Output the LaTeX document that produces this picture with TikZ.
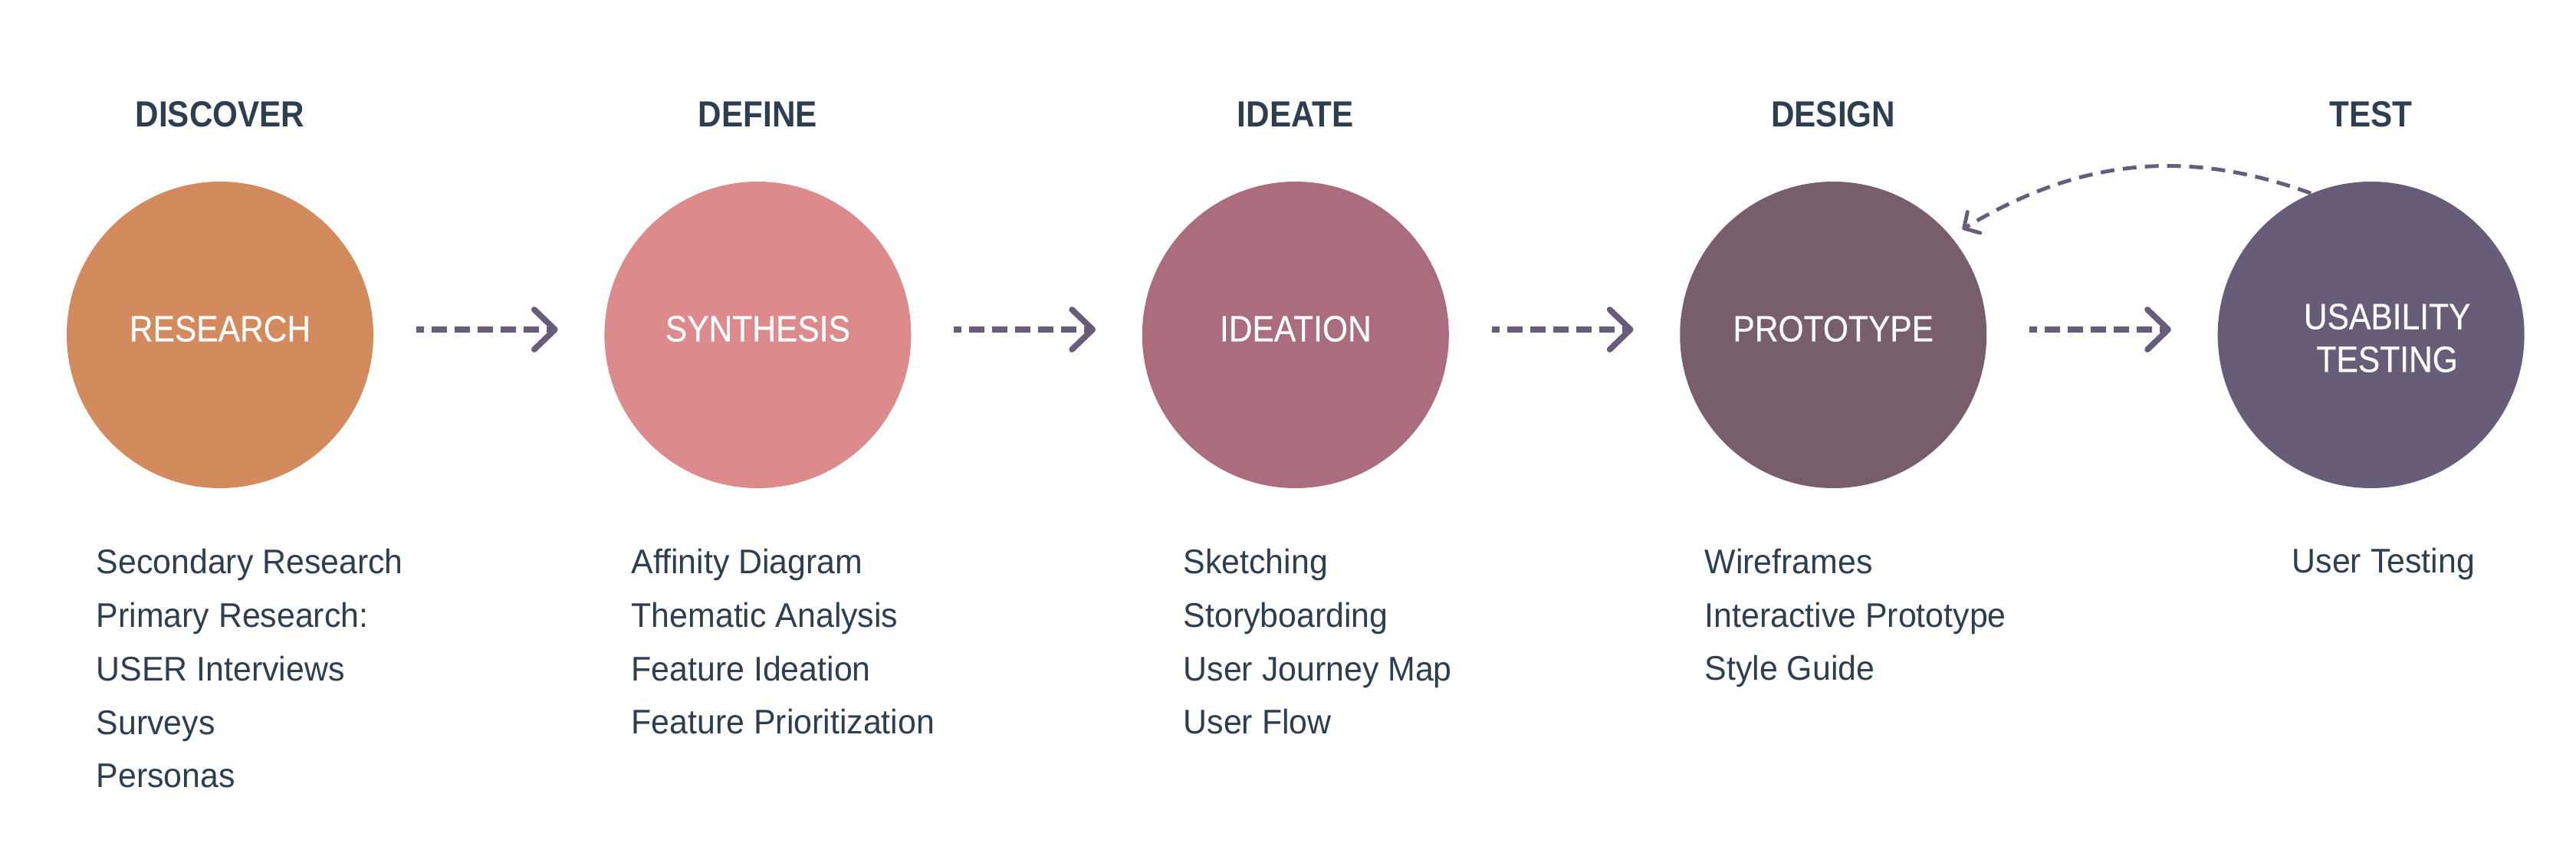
\documentclass[tikz,border=0pt]{standalone}
\usepackage{fontspec}
\setmainfont{Liberation Sans}[FakeStretch=0.96]
\newfontfamily\capsfont{Liberation Sans}[FakeStretch=0.89]
\newfontfamily\phasefont{Liberation Sans}[FakeStretch=0.89,FakeBold=0.4]
\usetikzlibrary{arrows.meta,positioning,calc}
\definecolor{ink}{RGB}{44, 62, 80}
\definecolor{arrow_gray}{RGB}{103, 92, 122}
\definecolor{c_research}{RGB}{211, 139, 94}
\definecolor{c_synthesis}{RGB}{221, 138, 140}
\definecolor{c_ideation}{RGB}{170, 108, 126}
\definecolor{c_prototype}{RGB}{120, 94, 107}
\definecolor{c_testing}{RGB}{104, 93, 120}
\tikzstyle{phase}=[circle,minimum size=4cm,inner sep=0pt,draw=none]
\tikzstyle{phasetext}=[text=white,inner sep=0pt,align=center,
  font=\phasefont\fontsize{13.6}{15.9}\selectfont]
\tikzstyle{heading}=[anchor=base,inner sep=0pt,text=ink,
  font=\capsfont\bfseries\fontsize{13.5}{16}\selectfont]
% base of a list = baseline of its last line
\tikzstyle{tasks}=[anchor=base west,inner sep=0pt,align=left,text=ink,
  font=\fontsize{12.7}{19.9}\selectfont]
\tikzstyle{flow}=[draw=arrow_gray,line width=2.2pt,dash pattern=on 0.2cm off 0.1cm,
  dash phase=0.1cm,shorten <=0.55cm,shorten >=0.6cm,
  -{Straight Barb[length=0.27cm,width=0.52cm,round]}]
\tikzstyle{loopback}=[draw=arrow_gray,line width=1.4pt,dash pattern=on 0.18cm off 0.11cm,
  -{Straight Barb[length=0.15cm,width=0.32cm,round]}]

\begin{document}
\begin{tikzpicture}
        \useasboundingbox (0,0) rectangle (33.6,11);
        % phases
        \node[phase,fill=c_research] (research) at (2.87,6.63) {};
        \node[phase,fill=c_synthesis,right=3cm of research] (synthesis) {};
        \node[phase,fill=c_ideation,right=3cm of synthesis] (ideation) {};
        \node[phase,fill=c_prototype,right=3cm of ideation] (prototype) {};
        \node[phase,fill=c_testing,right=3cm of prototype] (testing) {};
        \node[phasetext] (research_t) at ([yshift=0.08cm]research) {RESEARCH};
        \node[phasetext] (synthesis_t) at ([yshift=0.08cm]synthesis) {SYNTHESIS};
        \node[phasetext] (ideation_t) at ([yshift=0.08cm]ideation) {IDEATION};
        \node[phasetext] (prototype_t) at ([yshift=0.08cm]prototype) {PROTOTYPE};
        \node[phasetext] (testing_t) at ([xshift=0.21cm,yshift=-0.04cm]testing) {USABILITY\\TESTING};
        % headings
        \node[heading] (discover) at ([yshift=0.705cm]research.north) {DISCOVER};
        \node[heading] (define) at ([yshift=0.705cm]synthesis.north) {DEFINE};
        \node[heading] (ideate) at ([yshift=0.705cm]ideation.north) {IDEATE};
        \node[heading] (design) at ([yshift=0.705cm]prototype.north) {DESIGN};
        \node[heading] (test) at ([yshift=0.705cm]testing.north) {TEST};
        % methods
        \node[tasks] (research_list) at (1.25,0.72) {Secondary Research\\Primary Research:\\USER Interviews\\Surveys\\Personas};
        \node[tasks] (synthesis_list) at (8.23,1.42) {Affinity Diagram\\Thematic Analysis\\Feature Ideation\\Feature Prioritization};
        \node[tasks] (ideation_list) at (15.43,1.42) {Sketching\\Storyboarding\\User Journey Map\\User Flow};
        \node[tasks] (prototype_list) at (22.23,2.12) {Wireframes\\Interactive Prototype\\Style Guide};
        \node[tasks] (testing_list) at (29.89,3.52) {User Testing};
        % arrows
        \foreach \a/\b in {research/synthesis,synthesis/ideation,ideation/prototype,prototype/testing}
            \draw[flow] ([yshift=0.07cm]\a.east) -- ([yshift=0.07cm]\b.west);
        \draw[loopback,shorten >=0.17cm] (testing.113) to[out=160,in=31] (prototype.40);
    \end{tikzpicture}
\end{document}
